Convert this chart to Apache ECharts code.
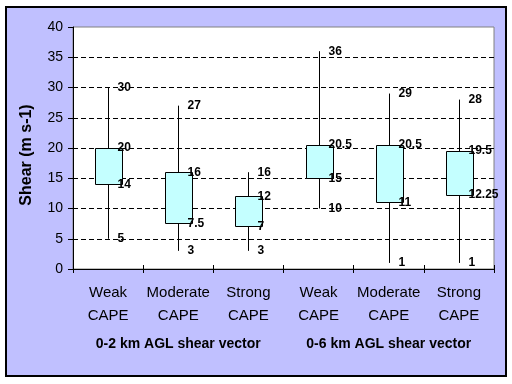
<!DOCTYPE html>
<html>
<head>
<meta charset="utf-8">
<script src="https://cdn.jsdelivr.net/npm/echarts@6/dist/echarts.min.js"></script>
<style>
html,body{margin:0;padding:0;background:#fff;}
#frame{position:absolute;left:5px;top:6px;width:498px;height:367px;border:2px solid #000;background:#C0C0FF;}
#chart{position:absolute;left:0;top:0;width:512px;height:384px;}
</style>
</head>
<body>
<div id="frame"></div>
<div id="chart"></div>
<script>
const categories = ['Weak\nCAPE', 'Moderate\nCAPE', 'Strong\nCAPE', 'Weak\nCAPE', 'Moderate\nCAPE', 'Strong\nCAPE'];
const groupLabels = ['0-2 km AGL shear vector', '0-6 km AGL shear vector'];
const minValues = [5, 3, 3, 10, 1, 1];
const q1Values = [14, 7.5, 7, 15, 11, 12.25];
const q3Values = [20, 16, 12, 20.5, 20.5, 19.5];
const maxValues = [30, 27, 16, 36, 29, 28];
const yTicks = { min: 0, max: 40, interval: 5 };
const yTitle = 'Shear (m s-1)';

const data = categories.map((c, i) => [i, minValues[i], q1Values[i], q3Values[i], maxValues[i]]);

const labelStyle = { fill: '#000', font: 'bold 12px "Liberation Sans", Arial, sans-serif', align: 'left', verticalAlign: 'middle' };

function renderItem(params, api) {
  const xi = api.value(0);
  const pMin = api.coord([xi, api.value(1)]);
  const pQ1 = api.coord([xi, api.value(2)]);
  const pQ3 = api.coord([xi, api.value(3)]);
  const pMax = api.coord([xi, api.value(4)]);
  const cx = Math.round(pMin[0]) + 0.5;
  const bw = api.size([1, 0])[0] * 0.38;
  const lx = cx + 9;
  const children = [
    { type: 'line', shape: { x1: cx, y1: pMax[1], x2: cx, y2: pMin[1] }, style: { stroke: '#000', lineWidth: 1 } },
    { type: 'rect', shape: { x: Math.round(cx - bw / 2) + 0.5, y: Math.round(pQ3[1]) + 0.5, width: Math.round(bw), height: Math.round(pQ1[1] - pQ3[1]) }, style: { fill: '#C4FFFF', stroke: '#000', lineWidth: 1 } }
  ];
  [[1, pMin], [2, pQ1], [3, pQ3], [4, pMax]].forEach(([k, p]) => {
    children.push({ type: 'text', x: lx, y: p[1], style: Object.assign({ text: String(api.value(k)) }, labelStyle), z2: 10 });
  });
  return { type: 'group', children };
}

const chart = echarts.init(document.getElementById('chart'), null, { renderer: 'canvas' });
const fontFamily = '"Liberation Sans", Arial, sans-serif';
chart.setOption({
  backgroundColor: 'transparent',
  animation: false,
  grid: { left: 73, top: 27, right: 18, bottom: 115, show: true, backgroundColor: '#fff', borderColor: '#808080', borderWidth: 1 },
  xAxis: [
    {
      type: 'category', data: categories, position: 'bottom',
      axisLine: { lineStyle: { color: '#000', width: 1 } },
      axisTick: { show: true, length: 4, lineStyle: { color: '#000' } },
      axisLabel: { color: '#000', fontSize: 15, fontFamily, lineHeight: 23, margin: 12, interval: 0 },
      splitLine: { show: false }
    },
    {
      type: 'category', data: groupLabels, position: 'bottom', offset: 60,
      axisLine: { show: false }, axisTick: { show: false },
      axisLabel: { color: '#000', fontSize: 14, fontWeight: 'bold', fontFamily, margin: 8, interval: 0 },
      splitLine: { show: false }
    },
    {
      type: 'category', data: categories, position: 'bottom',
      axisLine: { show: false },
      axisTick: { show: true, inside: true, length: 4, lineStyle: { color: '#000' } },
      axisLabel: { show: false }, splitLine: { show: false }
    }
  ],
  yAxis: {
    type: 'value', min: yTicks.min, max: yTicks.max, interval: yTicks.interval,
    axisLine: { show: true, lineStyle: { color: '#000' } },
    axisTick: { show: true, length: 5, lineStyle: { color: '#000' } },
    axisLabel: { color: '#000', fontSize: 14, fontFamily, margin: 10 },
    splitLine: { show: true, showMinLine: false, showMaxLine: false, lineStyle: { color: '#000', type: [5, 3], width: 1 } }
  },
  graphic: [
    { type: 'text', x: 27, y: 155, rotation: Math.PI / 2, style: { text: yTitle, fill: '#000', font: 'bold 16px ' + fontFamily, align: 'center', verticalAlign: 'middle' } }
  ],
  series: [{
    type: 'custom', renderItem, data, xAxisIndex: 0, yAxisIndex: 0,
    encode: { x: 0, y: [1, 2, 3, 4] }, z: 5
  }]
});
</script>
</body>
</html>
